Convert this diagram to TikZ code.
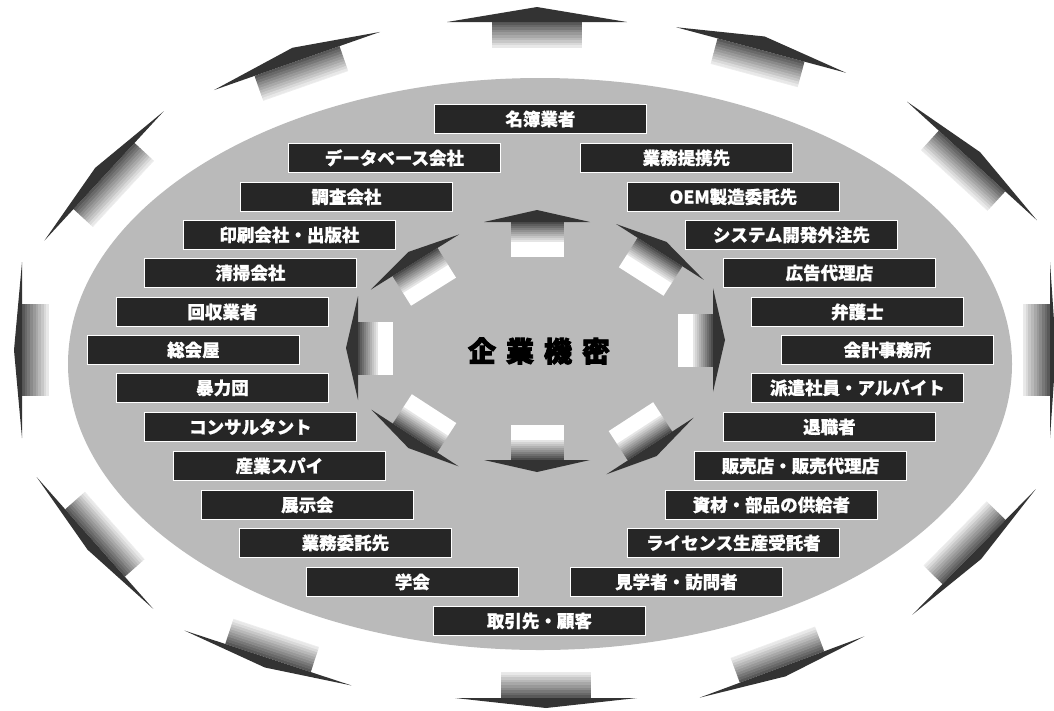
\documentclass[tikz,border=0pt]{standalone}
\usepackage{fontspec}
\newfontfamily\jp{Noto Sans CJK JP}[FakeBold=0.8]
\newfontfamily\jpb{Noto Sans CJK JP}[FakeBold=3]
\tikzset{
  lbl/.style={fill=black!85, draw=white, line width=0.8pt, text=white,
    minimum width=212pt, minimum height=29pt, inner sep=0pt, anchor=north west,
    font=\jp\bfseries\fontsize{17.5}{18}\selectfont},
  centre/.style={text=black, inner sep=0pt, font=\jpb\bfseries\fontsize{28}{29}\selectfont},
  plate/.style={fill=black!27}
}
% #1 x, #2 y, #3 rotation, #4 head half width, #5 head height,
% #6 shaft half width, #7 graded length, #8 white length, #9 start grey
\newcommand\ringarrow[9]{%
  \begin{scope}[shift={(#1,#2)},rotate=#3]
    \foreach \i in {0,...,9}{
      \fill[black!\fpeval{round(#9-(#9)*\i/10.5)}] (-#6,{#7*\i/10}) rectangle (#6,{#7*(\i+1)/10+0.4});
    }
    \fill[white] (-#6,#7) rectangle (#6,{#7+#8});
    \fill[black!80] (-#4,0) -- (0,-#5) -- (#4,0) -- cycle;
  \end{scope}}
\begin{document}
\begin{tikzpicture}[x=1pt,y=-1pt]
\useasboundingbox (0,0) rectangle (1054,710);
% outer ring of arrows
\ringarrow{537}{22}{0}{90}{15}{45}{26}{0}{65}
\ringarrow{761}{50}{-15}{88}{14}{45}{26}{0}{65}
\ringarrow{972}{161}{-42.4}{88}{12}{45}{26}{0}{65}
\ringarrow{1050}{350}{-90}{88}{6}{46}{27}{0}{65}
\ringarrow{974}{552}{-134.5}{88}{10}{45}{26}{0}{65}
\ringarrow{782}{667}{-159.6}{88}{10}{45}{26}{0}{65}
\ringarrow{546}{698}{180}{91}{10}{45}{26}{0}{65}
\ringarrow{268}{658}{161.8}{88}{10}{45}{26}{0}{65}
\ringarrow{95}{543}{131.5}{88}{10}{45}{26}{0}{65}
\ringarrow{22}{350}{90}{88}{8}{46}{27}{0}{65}
\ringarrow{104}{176}{47.3}{88}{12}{45}{26}{0}{65}
\ringarrow{297}{61}{19.3}{88}{14}{45}{26}{0}{65}
% grey plate
\fill[plate] (540,364) ellipse [x radius=472, y radius=286];
% inner ring of arrows
\ringarrow{537}{222}{0}{53}{12}{26.5}{20}{15}{70}
\ringarrow{660}{252}{-32.5}{52}{12}{26.5}{20}{15}{70}
\ringarrow{713}{340}{-90}{52}{12}{26.5}{20}{15}{70}
\ringarrow{650}{446}{-147}{52}{12}{26.5}{20}{15}{70}
\ringarrow{537}{460}{180}{53}{12}{26.5}{20}{15}{70}
\ringarrow{415}{438}{147}{52}{12}{26.5}{20}{15}{70}
\ringarrow{358}{348}{90}{52}{12}{26.5}{20}{15}{70}
\ringarrow{415}{262}{32}{52}{12}{26.5}{20}{15}{70}
% labels, left side
\node[lbl] (n1) at (434,104) {名簿業者};
\node[lbl] (n2) at (288,143) {データベース会社};
\node[lbl] (n3) at (240,182) {調査会社};
\node[lbl] (n4) at (183,220) {印刷会社・出版社};
\node[lbl] (n5) at (144,258) {清掃会社};
\node[lbl] (n6) at (116,297) {回収業者};
\node[lbl] (n7) at (87,335) {総会屋};
\node[lbl] (n8) at (116,373) {暴力団};
\node[lbl] (n9) at (144,412) {コンサルタント};
\node[lbl] (n10) at (173,451) {産業スパイ};
\node[lbl] (n11) at (201,490) {展示会};
\node[lbl] (n12) at (239,528) {業務委託先};
\node[lbl] (n13) at (306,567) {学会};
\node[lbl] (n14) at (433,606) {取引先・顧客};
% labels, right side
\node[lbl] (m1) at (580,143) {業務提携先};
\node[lbl] (m2) at (627,182) {OEM製造委託先};
\node[lbl] (m3) at (685,220) {システム開発外注先};
\node[lbl] (m4) at (723,258) {広告代理店};
\node[lbl] (m5) at (751,297) {弁護士};
\node[lbl] (m6) at (781,335) {会計事務所};
\node[lbl] (m7) at (751,373) {派遣社員・アルバイト};
\node[lbl] (m8) at (723,412) {退職者};
\node[lbl] (m9) at (694,451) {販売店・販売代理店};
\node[lbl] (m10) at (665,490) {資材・部品の供給者};
\node[lbl] (m11) at (627,528) {ライセンス生産受託者};
\node[lbl] (m12) at (570,567) {見学者・訪問者};
% centre
\node[centre] (core) at (539,351) {企\hspace{10pt}業\hspace{10pt}機\hspace{10pt}密};
\end{tikzpicture}
\end{document}
